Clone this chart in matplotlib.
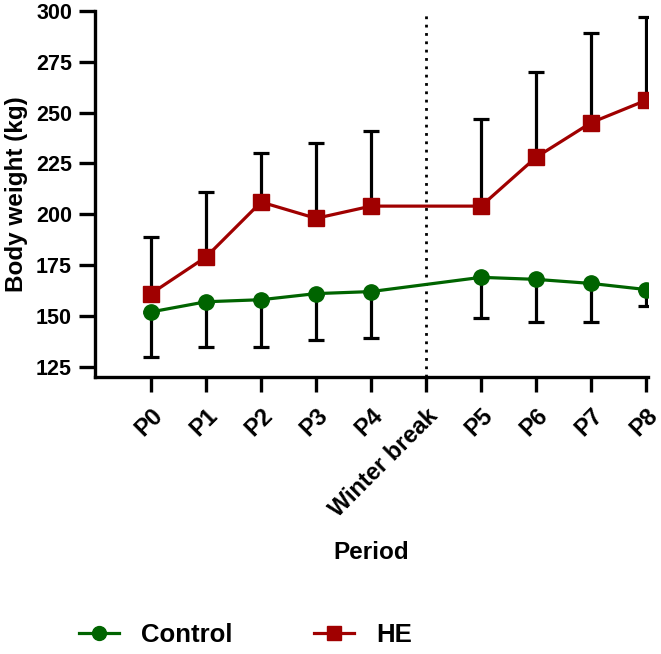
import numpy as np
import matplotlib.pyplot as plt
from matplotlib.lines import Line2D

plt.rcParams['font.family'] = ['Liberation Sans', 'DejaVu Sans']
plt.rcParams['font.weight'] = 'bold'

periods = ['P0', 'P1', 'P2', 'P3', 'P4', 'Winter break', 'P5', 'P6', 'P7', 'P8']
data_idx = [0, 1, 2, 3, 4, 6, 7, 8, 9]  # no measurement during winter break

control_mean = [152, 157, 158, 161, 162, 169, 168, 166, 163]
control_low = [130, 135, 135, 138, 139, 149, 147, 147, 155]
he_mean = [161, 179, 206, 198, 204, 204, 228, 245, 256]
he_high = [189, 211, 230, 235, 241, 247, 270, 289, 297]

green = '#006400'
red = '#a00000'

fig = plt.figure(figsize=(6.61, 6.54), dpi=100)
ax = fig.add_axes([0.1437, 0.4235, 0.837, 0.560])

x = np.array(data_idx)
cm = np.array(control_mean)
hm = np.array(he_mean)

ax.axvline(5, color='black', lw=2, ls=(0, (1, 2)), zorder=1)

ax.errorbar(x, cm, yerr=[cm - np.array(control_low), np.zeros_like(cm)],
            fmt='none', ecolor='black', elinewidth=2.3, capsize=5.5, capthick=2.3, zorder=2)
ax.errorbar(x, hm, yerr=[np.zeros_like(hm), np.array(he_high) - hm],
            fmt='none', ecolor='black', elinewidth=2.3, capsize=5.5, capthick=2.3, zorder=2)

ax.plot(x, cm, color=green, lw=2.3, marker='o', ms=11, zorder=3)
ax.plot(x, hm, color=red, lw=2.3, marker='s', ms=11, zorder=3)

ax.set_xlim(-1.02, 9.04)
ax.set_ylim(120, 300)
ax.set_yticks([125, 150, 175, 200, 225, 250, 275, 300])
ax.set_xticks(range(len(periods)))
ax.set_xticklabels(periods, rotation=45, ha='right', rotation_mode='anchor')

for s in ['top', 'right']:
    ax.spines[s].set_visible(False)
for s in ['left', 'bottom']:
    ax.spines[s].set_linewidth(2.4)
ax.tick_params(axis='y', width=2.4, length=11.5, labelsize=15.5, pad=5)
ax.tick_params(axis='x', width=2.4, length=10.5, labelsize=17, pad=9)

ax.set_ylabel('Body weight (kg)', fontsize=17.5, fontweight='bold', labelpad=6)
ax.set_xlabel('Period', fontsize=17.5, fontweight='bold', labelpad=14)

handles = [Line2D([], [], color=green, lw=2.3, marker='o', ms=10),
           Line2D([], [], color=red, lw=2.3, marker='s', ms=10)]
fig.legend(handles, ['Control', 'HE'], loc='center left', bbox_to_anchor=(0.119, 0.029),
           ncol=2, frameon=False, fontsize=18.5, handlelength=1.56, columnspacing=3.15,
           handletextpad=0.88, borderpad=0, borderaxespad=0)

fig.savefig('out.png', dpi=100)
